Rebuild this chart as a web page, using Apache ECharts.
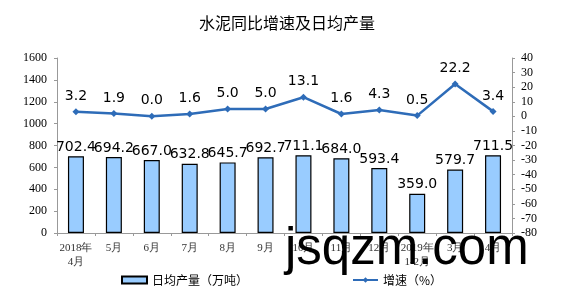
<!DOCTYPE html>
<html><head><meta charset="utf-8">
<script src="https://cdn.jsdelivr.net/npm/echarts@6/dist/echarts.min.js"></script>
<style>html,body{margin:0;padding:0;background:#fff}#c{width:574px;height:294px}</style>
</head><body><div id="c"></div>
<script>
var categories = ["2018年\n4月","5月","6月","7月","8月","9月","10月","11月","12月","2019年\n1-2月","3月","4月"];
var dailyOutput = [702.4,694.2,667.0,632.8,645.7,692.7,711.1,684.0,593.4,359.0,579.7,711.5];
var growth = [3.2,1.9,0.0,1.6,5.0,5.0,13.1,1.6,4.3,0.5,22.2,3.4];
var chart = echarts.init(document.getElementById('c'));
var serif = '"Liberation Serif","Times New Roman",serif';
var sans = '"Liberation Sans",Arial,sans-serif';
var wide = '"DejaVu Sans",sans-serif';
chart.setOption({
  animation:false,
  title:{text:'水泥同比增速及日均产量',left:'center',top:10,textStyle:{fontSize:16,fontWeight:'normal',color:'#000',fontFamily:'"Noto Sans CJK SC",sans-serif'}},
  legend:{left:116,bottom:3,itemGap:104,itemWidth:25,itemHeight:7,textStyle:{fontSize:12,color:'#000',fontFamily:'"Noto Sans CJK SC",sans-serif'},
    data:[{name:'日均产量（万吨）',icon:'rect'},{name:'增速（%）'}]},
  grid:{left:57,right:62,top:58,bottom:61},
  xAxis:{type:'category',data:categories,
    axisLine:{lineStyle:{color:'#999'}},axisTick:{show:true,lineStyle:{color:'#999'},length:3},
    axisLabel:{fontSize:11,color:'#333',fontFamily:serif,interval:0,margin:8,lineHeight:14}},
  yAxis:[{type:'value',min:0,max:1600,interval:200,
    axisLine:{show:true,lineStyle:{color:'#999'}},axisTick:{show:true,length:3,lineStyle:{color:'#999'}},splitLine:{show:false},
    axisLabel:{fontSize:12,color:'#000',fontFamily:serif,margin:10,formatter:function(v){return String(v);}}},
    {type:'value',min:-80,max:40,interval:10,position:'right',
    axisLine:{show:true,lineStyle:{color:'#999'}},axisTick:{show:true,length:3,lineStyle:{color:'#999'}},splitLine:{show:false},
    axisLabel:{fontSize:12,color:'#000',fontFamily:serif,margin:9,formatter:function(v){return String(v);}}}],
  series:[{name:'日均产量（万吨）',type:'bar',data:dailyOutput,barWidth:16,
    itemStyle:{color:'#99CCFF',borderColor:'#000',borderWidth:1.2},
    label:{show:true,position:'top',distance:2,fontSize:14,color:'#000',fontFamily:wide,formatter:function(p){return p.value.toFixed(1);}}},
    {name:'增速（%）',type:'line',yAxisIndex:1,data:growth,symbol:'diamond',symbolSize:7,
    lineStyle:{color:'#2E6CB8',width:2.5},itemStyle:{color:'#2E6CB8'},
    label:{show:true,position:'top',distance:5,fontSize:14,color:'#000',fontFamily:wide,formatter:function(p){return p.value.toFixed(1);}}}],
  graphic:[{type:'text',left:285,top:224,z:100,style:{text:'jsqzm.com',fontSize:51,fill:'#000',fontFamily:sans}}]
});
</script></body></html>
